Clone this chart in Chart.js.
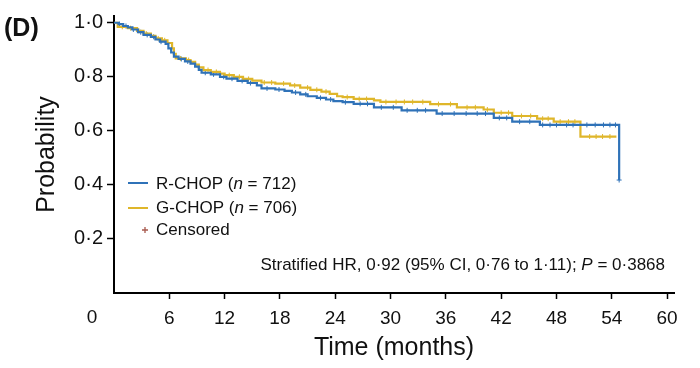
<!DOCTYPE html>
<html>
<head>
<meta charset="utf-8">
<script src="https://cdn.jsdelivr.net/npm/chart.js@4.4.0/dist/chart.umd.min.js"></script>
<style>
  html, body { margin: 0; padding: 0; background: #fff; }
  #wrap { width: 700px; height: 368px; position: relative; }
</style>
</head>
<body>
<div id="wrap"><canvas id="chart"></canvas></div>
<script>
// Kaplan-Meier steps: time (months) and survival probability
var rchopTimes = [0, 0.5, 1.0, 1.5, 2.0, 2.6, 3.2, 4.0, 4.5, 5.0, 5.6, 5.9, 6.2, 6.5, 7.0, 7.7, 8.3, 8.8, 9.2, 9.5, 10.5, 11.5, 12.2, 13.4, 14.5, 15.5, 16.0, 17.5, 18.5, 19.3, 20.2, 21.0, 22.0, 23.0, 23.8, 24.8, 26.0, 28.2, 31.2, 35.0, 41.2, 43.2, 46.2, 54.8];
var rchopSurv  = [1.0, 0.995, 0.988, 0.983, 0.975, 0.965, 0.955, 0.948, 0.938, 0.930, 0.922, 0.905, 0.890, 0.875, 0.866, 0.857, 0.849, 0.838, 0.826, 0.815, 0.809, 0.800, 0.793, 0.785, 0.777, 0.768, 0.757, 0.753, 0.748, 0.742, 0.735, 0.728, 0.722, 0.716, 0.710, 0.706, 0.700, 0.687, 0.676, 0.664, 0.648, 0.634, 0.622, 0.418];

var gchopTimes = [0, 0.4, 1.5, 2.5, 3.2, 4.0, 4.5, 5.2, 5.8, 6.3, 6.5, 6.7, 7.8, 8.3, 8.8, 9.2, 9.7, 10.5, 11.5, 12.0, 13.0, 14.0, 15.0, 16.0, 17.5, 19.1, 20.2, 21.3, 22.5, 23.4, 24.2, 24.8, 26.0, 28.2, 28.9, 34.3, 37.2, 40.1, 41.2, 43.2, 45.9, 47.7, 50.6, 54.5];
var gchopSurv  = [1.0, 0.985, 0.980, 0.970, 0.960, 0.952, 0.942, 0.935, 0.925, 0.905, 0.885, 0.868, 0.862, 0.855, 0.845, 0.835, 0.825, 0.818, 0.812, 0.806, 0.800, 0.792, 0.786, 0.779, 0.775, 0.768, 0.760, 0.752, 0.745, 0.737, 0.728, 0.725, 0.718, 0.713, 0.707, 0.699, 0.687, 0.679, 0.667, 0.655, 0.645, 0.634, 0.579, 0.579];

// censoring times (approximate)
var rchopCensored = [0.6, 1.3, 2.1, 2.9, 3.6, 4.3, 5.1, 7.3, 8.0, 9.9, 10.8, 11.9, 12.8, 13.9, 14.8, 16.6, 17.9, 19.7, 20.8, 22.4, 23.5, 25.1, 26.7, 27.5, 29.0, 30.3, 31.8, 32.9, 33.8, 35.6, 36.9, 38.2, 39.4, 40.3, 41.8, 42.6, 44.0, 45.1, 46.5, 47.3, 48.0, 49.1, 49.8, 51.3, 52.2, 53.1, 53.8, 54.4, 54.8];
var gchopCensored = [0.9, 1.8, 2.7, 3.5, 4.8, 5.5, 7.2, 8.1, 10.2, 11.1, 12.5, 13.6, 14.6, 16.3, 17.1, 18.4, 19.6, 21.0, 22.0, 23.0, 25.3, 26.6, 27.4, 29.5, 30.6, 31.5, 32.4, 33.5, 35.2, 36.5, 38.3, 39.2, 40.5, 42.0, 42.8, 44.2, 45.2, 46.5, 47.1, 48.4, 49.3, 50.0, 51.6, 52.3, 53.0, 53.8];

var xTicks = [6, 12, 18, 24, 30, 36, 42, 48, 54, 60];
var yTicks = [0.2, 0.4, 0.6, 0.8, 1.0];

var blue = '#2f72b8';
var yellow = '#dfb62a';
var censorColor = '#a85a4e';
var fontFamily = '"Liberation Sans", Arial, Helvetica, sans-serif';

function points(times, surv) {
  return times.map(function (t, i) { return { x: t, y: surv[i] }; });
}

function survAt(times, surv, t) {
  var s = surv[0];
  for (var i = 0; i < times.length; i++) {
    if (times[i] <= t) s = surv[i];
  }
  return s;
}

function censorPoints(cens, times, surv) {
  return cens.map(function (t) { return { x: t, y: survAt(times, surv, t) }; });
}

function dot(v) {
  return v.toFixed(1).replace('.', '\u00b7');
}

// draws pieces of text, some italic, starting at x
function drawRuns(ctx, runs, x, y, size) {
  runs.forEach(function (r) {
    ctx.font = (r.italic ? 'italic ' : '') + size + 'px ' + fontFamily;
    ctx.fillText(r.text, x, y);
    x += ctx.measureText(r.text).width;
  });
}

function runsWidth(ctx, runs, size) {
  var w = 0;
  runs.forEach(function (r) {
    ctx.font = (r.italic ? 'italic ' : '') + size + 'px ' + fontFamily;
    w += ctx.measureText(r.text).width;
  });
  return w;
}

var extras = {
  id: 'extras',
  afterDraw: function (chart) {
    var ctx = chart.ctx;
    var area = chart.chartArea;
    ctx.save();
    ctx.fillStyle = '#111';
    ctx.textBaseline = 'middle';

    // panel letter
    ctx.font = 'bold 25px ' + fontFamily;
    ctx.textAlign = 'left';
    ctx.fillText('(D)', 4, 29);

    // origin label
    ctx.font = '19px ' + fontFamily;
    ctx.textAlign = 'center';
    ctx.fillText('0', area.left - 22, 318);

    // legend
    ctx.textAlign = 'left';
    ctx.lineWidth = 2;
    ctx.strokeStyle = blue;
    ctx.beginPath(); ctx.moveTo(128, 183); ctx.lineTo(148, 183); ctx.stroke();
    ctx.strokeStyle = yellow;
    ctx.beginPath(); ctx.moveTo(128, 208); ctx.lineTo(148, 208); ctx.stroke();
    ctx.fillStyle = '#111';
    drawRuns(ctx, [{ text: 'R-CHOP (' }, { text: 'n', italic: true }, { text: ' = 712)' }], 156, 184, 17);
    drawRuns(ctx, [{ text: 'G-CHOP (' }, { text: 'n', italic: true }, { text: ' = 706)' }], 156, 208, 17);
    ctx.strokeStyle = censorColor;
    ctx.lineWidth = 1.3;
    ctx.beginPath();
    ctx.moveTo(142, 230); ctx.lineTo(148, 230);
    ctx.moveTo(145, 227); ctx.lineTo(145, 233);
    ctx.stroke();
    drawRuns(ctx, [{ text: 'Censored' }], 156, 230, 17);

    // hazard ratio note
    var note = [
      { text: 'Stratified HR, 0\u00b792 (95% CI, 0\u00b776 to 1\u00b711); ' },
      { text: 'P', italic: true },
      { text: ' = 0\u00b73868' }
    ];
    var w = runsWidth(ctx, note, 17);
    drawRuns(ctx, note, 665 - w, 265, 17);
    ctx.restore();
  }
};

var ctx = document.getElementById('chart');
new Chart(ctx, {
  type: 'line',
  data: {
    datasets: [
      {
        label: 'R-CHOP',
        data: points(rchopTimes, rchopSurv),
        borderColor: blue,
        borderWidth: 2.2,
        stepped: 'before',
        pointRadius: 0,
        fill: false
      },
      {
        label: 'G-CHOP',
        data: points(gchopTimes, gchopSurv),
        borderColor: yellow,
        borderWidth: 2.2,
        stepped: 'before',
        pointRadius: 0,
        fill: false
      },
      {
        label: 'R-CHOP censored',
        data: censorPoints(rchopCensored, rchopTimes, rchopSurv),
        showLine: false,
        pointStyle: 'cross',
        pointRadius: 2.5,
        pointBorderWidth: 1,
        borderColor: blue
      },
      {
        label: 'G-CHOP censored',
        data: censorPoints(gchopCensored, gchopTimes, gchopSurv),
        showLine: false,
        pointStyle: 'cross',
        pointRadius: 2.5,
        pointBorderWidth: 1,
        borderColor: yellow
      }
    ]
  },
  options: {
    responsive: true,
    maintainAspectRatio: false,
    animation: false,
    layout: { padding: { top: 13, right: 26, left: 0, bottom: 0 } },
    plugins: {
      legend: { display: false },
      tooltip: { enabled: false }
    },
    scales: {
      x: {
        type: 'linear',
        min: 0,
        max: 60.75,
        afterBuildTicks: function (scale) {
          scale.ticks = xTicks.map(function (v) { return { value: v }; });
        },
        afterFit: function (scale) { scale.height = 75; },
        ticks: {
          color: '#111',
          font: { size: 19, family: fontFamily },
          padding: 8,
          maxRotation: 0
        },
        grid: { drawOnChartArea: false, tickLength: 6, tickWidth: 1.5, tickColor: '#000' },
        border: { color: '#000', width: 2 },
        title: {
          display: true,
          text: 'Time (months)',
          color: '#111',
          font: { size: 25, family: fontFamily },
          padding: { top: 0, bottom: 5 }
        }
      },
      y: {
        min: 0,
        max: 1.025,
        afterBuildTicks: function (scale) {
          scale.ticks = yTicks.map(function (v) { return { value: v }; });
        },
        afterFit: function (scale) { scale.width = 114; },
        ticks: {
          color: '#111',
          font: { size: 20, family: fontFamily },
          padding: 4,
          callback: function (v) { return dot(v); }
        },
        grid: { drawOnChartArea: false, tickLength: 7, tickWidth: 1.5, tickColor: '#000' },
        border: { color: '#000', width: 2 },
        title: {
          display: true,
          text: 'Probability',
          color: '#111',
          font: { size: 25, family: fontFamily },
          padding: { top: 32, bottom: 0 }
        }
      }
    }
  },
  plugins: [extras]
});
</script>
</body>
</html>
